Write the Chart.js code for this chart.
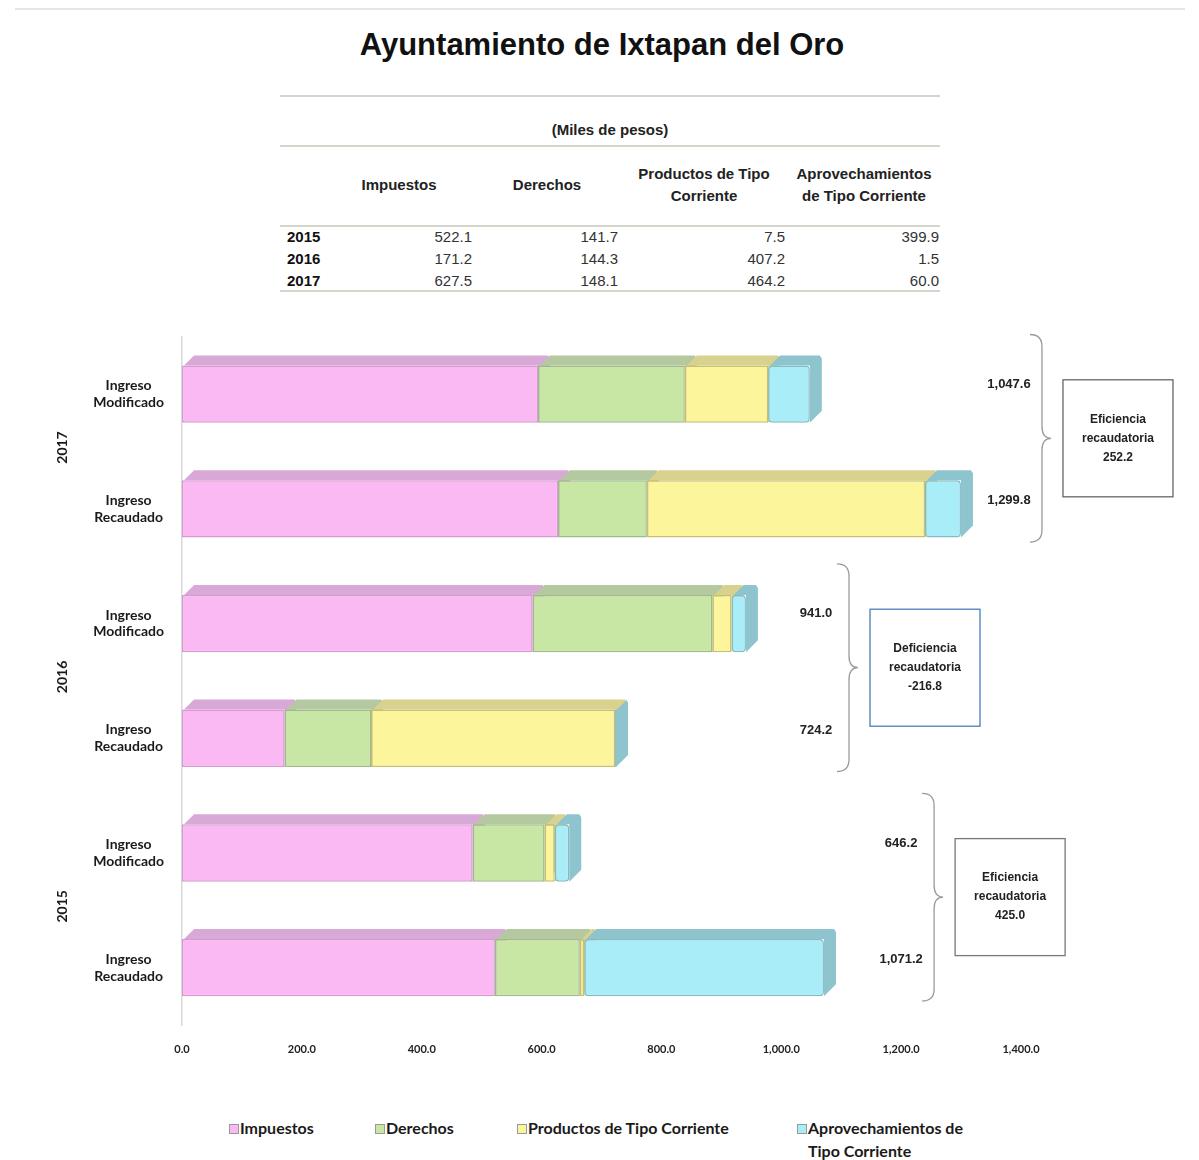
<!DOCTYPE html>
<html>
<head>
<meta charset="utf-8">
<script src="https://cdn.jsdelivr.net/npm/chart.js@4/dist/chart.umd.min.js"></script>
<style>
  html, body { margin: 0; padding: 0; background: #fff; }
  body { position: relative; width: 1199px; height: 1160px; overflow: hidden; font-family: 'Liberation Sans', Arial, sans-serif; }
  #topline { position: absolute; left: 15px; top: 8px; width: 1170px; height: 2px; background: #e6e6e6; }
  .rule { position: absolute; left: 280px; width: 660px; height: 2px; background: #d4d6cc; }
  #chartWrap { position: absolute; left: 0; top: 302px; width: 1199px; height: 768px; }
  .lg { position: absolute; font: bold 16px Lato, 'Open Sans', sans-serif; color: #1a1a1a; line-height: 23px; }
  .lg i { position: absolute; left: -11px; top: 8px; width: 8px; height: 8px; border: 1px solid #999; }
</style>
</head>
<body>
<div id="topline"></div>
<div id="chartWrap"><canvas id="c" width="1199" height="768"></canvas></div>
<script>
// ---------- DATA ----------
const title = 'Ayuntamiento de Ixtapan del Oro';
const unitsNote = '(Miles de pesos)';
const seriesNames = ['Impuestos', 'Derechos', 'Productos de Tipo Corriente', 'Aprovechamientos de Tipo Corriente'];
const tableHeaders = [['Impuestos'], ['Derechos'], ['Productos de Tipo', 'Corriente'], ['Aprovechamientos', 'de Tipo Corriente']];
const tableYears = ['2015', '2016', '2017'];
const tableImpuestos = [522.1, 171.2, 627.5];
const tableDerechos = [141.7, 144.3, 148.1];
const tableProductos = [7.5, 407.2, 464.2];
const tableAprovechamientos = [399.9, 1.5, 60.0];

// chart rows, top to bottom
const categories = [['Ingreso', 'Modificado'], ['Ingreso', 'Recaudado'], ['Ingreso', 'Modificado'], ['Ingreso', 'Recaudado'], ['Ingreso', 'Modificado'], ['Ingreso', 'Recaudado']];
const groupYears = ['2017', '2016', '2015'];
const impuestos = [594.0, 627.5, 585.0, 171.2, 485.0, 522.1];
const derechos = [245.0, 148.1, 300.0, 144.3, 120.0, 141.7];
const productos = [139.0, 464.2, 32.0, 407.2, 17.0, 7.5];
const aprovechamientos = [69.6, 60.0, 24.0, 1.5, 24.2, 399.9];
const groupNoteTitles = [['Eficiencia', 'recaudatoria'], ['Deficiencia', 'recaudatoria'], ['Eficiencia', 'recaudatoria']];
const braceAt = [1435, 1113, 1255]; // axis units where each group's brace stands
const xMin = 0, xMax = 1400, xStep = 200;

// ---------- STYLE ----------
const fronts = ['#FBB9F4', '#C9E7A4', '#FDF59C', '#A9EDF8'];
const sides = ['#D8A9D6', '#B5C9A1', '#D9D18E', '#8DC4CD'];
const edges = ['#D69AD1', '#9FB98B', '#C9BF72', '#84BBC5'];
const boxColors = ['#666666', '#4A7EBB', '#777777'];

// ---------- PAGE TEXT ----------
function place(text, x, y, align, font, color) {
  const d = document.createElement('div');
  d.textContent = text;
  d.style.cssText = 'position:absolute;white-space:nowrap;line-height:1;top:' + y + 'px;font:' + font + ';color:' + color + ';';
  if (align === 'center') { d.style.left = x + 'px'; d.style.transform = 'translate(-50%,-50%)'; }
  else if (align === 'right') { d.style.right = (1199 - x) + 'px'; d.style.transform = 'translateY(-50%)'; }
  else { d.style.left = x + 'px'; d.style.transform = 'translateY(-50%)'; }
  document.body.appendChild(d);
}
place(title, 602, 45, 'center', "bold 31px 'Liberation Sans', Arial, sans-serif", '#111');
[95, 145, 225, 290].forEach(y => {
  const r = document.createElement('div'); r.className = 'rule'; r.style.top = y + 'px'; document.body.appendChild(r);
});
const tableFont = "15px 'Liberation Sans', Arial, sans-serif";
const tableBold = "bold 15px 'Liberation Sans', Arial, sans-serif";
place(unitsNote, 610, 129, 'center', tableBold, '#222');
const headCenters = [399, 547, 704, 864];
const valueRights = [472, 618, 785, 939];
tableHeaders.forEach((lines, i) => {
  if (lines.length === 1) place(lines[0], headCenters[i], 184, 'center', tableBold, '#222');
  else lines.forEach((l, j) => place(l, headCenters[i], 173 + j * 22, 'center', tableBold, '#222'));
});
const tableCols = [tableImpuestos, tableDerechos, tableProductos, tableAprovechamientos];
tableYears.forEach((yr, r) => {
  const y = 236 + r * 22;
  place(yr, 287, y, 'left', tableBold, '#111');
  tableCols.forEach((col, i) => place(col[r].toFixed(1), valueRights[i], y, 'right', tableFont, '#333'));
});

// legend
const legendLeft = [240, 386, 528, 808];
seriesNames.forEach((name, i) => {
  const d = document.createElement('div');
  d.className = 'lg';
  d.style.left = legendLeft[i] + 'px';
  d.style.top = '1116px';
  if (i === 3) d.style.width = '175px';
  d.innerHTML = '<i style="background:' + fronts[i] + '"></i>' + name;
  document.body.appendChild(d);
});

// ---------- CHART ----------
const fmt = v => v.toLocaleString('en-US', { minimumFractionDigits: 1, maximumFractionDigits: 1 });
const series = [impuestos, derechos, productos, aprovechamientos];
const totals = categories.map((_, k) => series.reduce((s, a) => s + a[k], 0));

const depthPlugin = {
  id: 'depth',
  beforeDatasetsDraw(chart) {
    const ctx = chart.ctx, dx = 12, dy = 10;
    ctx.save();
    chart.data.datasets.forEach((ds, i) => {
      chart.getDatasetMeta(i).data.forEach(bar => {
        const p = bar.getProps(['x', 'y', 'base', 'height'], true);
        const x0 = p.base, x1 = p.x, top = p.y - p.height / 2, bot = p.y + p.height / 2;
        ctx.fillStyle = sides[i];
        ctx.beginPath();
        ctx.moveTo(x0 + 2, top);
        ctx.lineTo(x0 + dx, top - dy);
        ctx.lineTo(x1 + dx - 2, top - dy);
        ctx.lineTo(x1 + dx, top - dy + 3);
        ctx.lineTo(x1 + dx, bot - dy - 2);
        ctx.lineTo(x1, bot);
        ctx.lineTo(x1, top);
        ctx.closePath();
        ctx.fill();
      });
    });
    ctx.restore();
  }
};

const notesPlugin = {
  id: 'notes',
  afterDatasetsDraw(chart) {
    const ctx = chart.ctx, xs = chart.scales.x, ys = chart.scales.y;
    const band = ys.getPixelForValue(1) - ys.getPixelForValue(0);
    ctx.save();
    groupYears.forEach((yr, g) => {
      const c0 = ys.getPixelForValue(2 * g), c1 = ys.getPixelForValue(2 * g + 1);
      // rotated year label
      ctx.save();
      ctx.translate(62, (c0 + c1) / 2 - 4);
      ctx.rotate(-Math.PI / 2);
      ctx.font = "bold 14px Lato, 'Open Sans', sans-serif";
      ctx.fillStyle = '#1a1a1a';
      ctx.textAlign = 'center';
      ctx.textBaseline = 'middle';
      ctx.fillText(yr, 0, 0);
      ctx.restore();

      const bx = xs.getPixelForValue(braceAt[g]);
      const yT = c0 - band * 0.52, yB = c1 + band * 0.29, mid = (yT + yB) / 2, r = 12;
      // brace
      ctx.strokeStyle = '#9a9a9a';
      ctx.lineWidth = 1.3;
      ctx.beginPath();
      ctx.moveTo(bx - r, yT);
      ctx.quadraticCurveTo(bx, yT, bx, yT + r);
      ctx.lineTo(bx, mid - r);
      ctx.quadraticCurveTo(bx, mid, bx + 9, mid);
      ctx.quadraticCurveTo(bx, mid, bx, mid + r);
      ctx.lineTo(bx, yB - r);
      ctx.quadraticCurveTo(bx, yB, bx - r, yB);
      ctx.stroke();
      // totals
      ctx.font = "bold 13px 'Liberation Sans Narrow', 'Liberation Sans', Arial, sans-serif";
      ctx.fillStyle = '#222';
      ctx.textAlign = 'center';
      ctx.textBaseline = 'middle';
      ctx.fillText(fmt(totals[2 * g]), bx - 33, c0 - 10);
      ctx.fillText(fmt(totals[2 * g + 1]), bx - 33, c1 - 8);
      // note box
      const bw = 110, bh = 117, bl = bx + 21, bt = mid - bh / 2;
      ctx.strokeStyle = boxColors[g];
      ctx.lineWidth = 1.3;
      ctx.strokeRect(bl, bt, bw, bh);
      const diff = totals[2 * g + 1] - totals[2 * g];
      const lines = groupNoteTitles[g].concat([fmt(diff)]);
      ctx.font = "bold 12px 'Liberation Sans Narrow', 'Liberation Sans', Arial, sans-serif";
      lines.forEach((l, j) => ctx.fillText(l, bl + bw / 2, mid + (j - 1) * 19));
    });
    ctx.restore();
  }
};

new Chart(document.getElementById('c'), {
  type: 'bar',
  data: {
    labels: categories,
    datasets: series.map((vals, i) => ({
      label: seriesNames[i],
      data: vals,
      backgroundColor: fronts[i],
      borderColor: edges[i],
      borderWidth: 1.5,
      borderRadius: 4,
      borderSkipped: false,
      categoryPercentage: 1,
      barPercentage: 0.5
    }))
  },
  options: {
    indexAxis: 'y',
    responsive: false,
    animation: false,
    devicePixelRatio: 1,
    layout: { padding: { left: 0, right: 178, top: 0, bottom: 0 } },
    plugins: { legend: { display: false }, tooltip: { enabled: false } },
    scales: {
      x: {
        stacked: true,
        min: xMin, max: xMax,
        grid: { display: false, drawTicks: false },
        border: { display: false },
        ticks: {
          stepSize: xStep,
          padding: 18,
          font: { family: "Lato, 'Open Sans', sans-serif", size: 11, weight: 'bold' },
          color: '#222',
          callback: v => fmt(v)
        },
        afterFit: s => { s.height = 45; }
      },
      y: {
        stacked: true,
        grid: { display: false, drawTicks: false },
        border: { display: true, color: '#D9D9D9', width: 1.5 },
        ticks: {
          padding: 18,
          crossAlign: 'center',
          font: { family: "Lato, 'Open Sans', sans-serif", size: 14, weight: 'bold' },
          color: '#1a1a1a'
        },
        afterFit: s => { s.width = 182; }
      }
    }
  },
  plugins: [depthPlugin, notesPlugin]
});
</script>
</body>
</html>
